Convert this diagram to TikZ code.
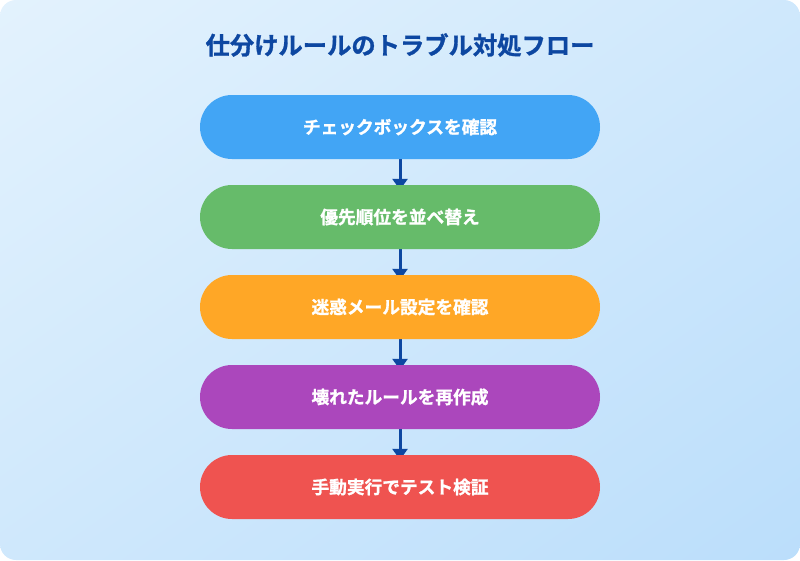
\documentclass[tikz,border=0pt]{standalone}
\usepackage{fontspec}
\newfontfamily\jpfont{Noto Sans CJK JP Bold}[FakeBold=1.2]
\usetikzlibrary{arrows.meta,shapes.misc,shadings}
\pgfdeclarelayer{bg}
\pgfdeclarelayer{arrowlayer}
\pgfsetlayers{bg,arrowlayer,main}
\definecolor{bgA}{HTML}{E3F2FD}
\definecolor{bgB}{HTML}{BBDEFB}
\definecolor{titlec}{HTML}{0D47A1}
\definecolor{c1}{HTML}{42A5F5}
\definecolor{c2}{HTML}{66BB6A}
\definecolor{c3}{HTML}{FFA726}
\definecolor{c4}{HTML}{AB47BC}
\definecolor{c5}{HTML}{EF5350}
\newcommand\lowtxt[1]{\raisebox{-2.5pt}{#1}}
\tikzset{
  pill/.style={rounded rectangle, minimum width=400pt, minimum height=64pt, inner sep=0pt, text=white, font=\jpfont\fontsize{17.7pt}{20pt}\selectfont},
  conn/.style={draw=titlec, line width=3pt, -{Triangle[width=15pt,length=11pt]}}
}
\begin{document}
\begin{tikzpicture}[x=1pt,y=-1pt]
\useasboundingbox (0,0) rectangle (800,560);
\begin{pgfonlayer}{bg}
\shade[upper left=bgA, lower right=bgB, upper right=bgA!50!bgB, lower left=bgA!50!bgB, rounded corners=16pt] (0,0) rectangle (800,560);
\end{pgfonlayer}
\node[font=\jpfont\fontsize{24.3pt}{28pt}\selectfont, text=titlec] (title) at (400,45) {仕分けルールのトラブル対処フロー};
\node[pill, fill=c1] (s1) at (400,127) {\lowtxt{チェックボックスを確認}};
\node[pill, fill=c2] (s2) at (400,217) {\lowtxt{優先順位を並べ替え}};
\node[pill, fill=c3] (s3) at (400,307) {\lowtxt{迷惑メール設定を確認}};
\node[pill, fill=c4] (s4) at (400,397) {\lowtxt{壊れたルールを再作成}};
\node[pill, fill=c5] (s5) at (400,487) {\lowtxt{手動実行でテスト検証}};
\begin{pgfonlayer}{arrowlayer}
\draw[conn] (s1.south) -- ([yshift=-5pt]s2.north);
\draw[conn] (s2.south) -- ([yshift=-5pt]s3.north);
\draw[conn] (s3.south) -- ([yshift=-5pt]s4.north);
\draw[conn] (s4.south) -- ([yshift=-5pt]s5.north);
\end{pgfonlayer}
\end{tikzpicture}
\end{document}
